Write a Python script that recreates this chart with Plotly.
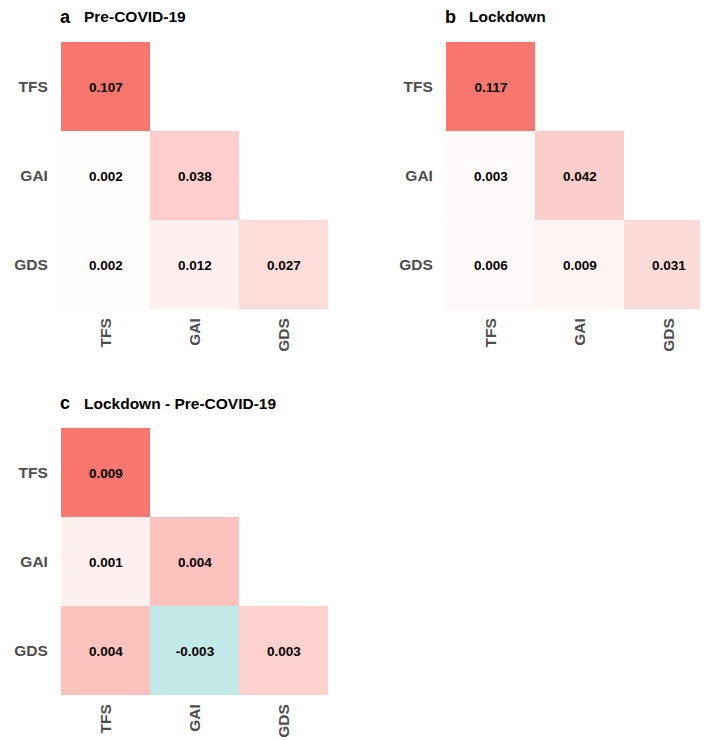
import plotly.graph_objects as go

labels = ["TFS", "GAI", "GDS"]
pre_covid = [[0.107, None, None],
             [0.002, 0.038, None],
             [0.002, 0.012, 0.027]]
lockdown = [[0.117, None, None],
            [0.003, 0.042, None],
            [0.006, 0.009, 0.031]]
difference = [[0.009, None, None],
              [0.001, 0.004, None],
              [0.004, -0.003, 0.003]]
panel_letters = ["a", "b", "c"]
panel_titles = ["Pre-COVID-19", "Lockdown", "Lockdown - Pre-COVID-19"]

W, H = 708, 740
FONT = "Liberation Sans, Arial, sans-serif"
colorscale = [[0.0, "rgb(72,186,186)"], [0.5, "rgb(255,255,255)"], [1.0, "#F8766D"]]

# panel boxes in pixels: (left, top, size)
boxes = [(53, 34, 267), (438, 34, 267), (53, 420, 267)]

fig = go.Figure()
datasets = [pre_covid, lockdown, difference]
for i, (z, (left, top, size)) in enumerate(zip(datasets, boxes)):
    n = i + 1
    xa = "x" if n == 1 else f"x{n}"
    ya = "y" if n == 1 else f"y{n}"
    zmax = max(abs(v) for row in z for v in row if v is not None)
    text = [["" if v is None else f"{v:.3f}" for v in row] for row in z]
    fig.add_trace(go.Heatmap(
        z=z, x=labels, y=labels, text=text, texttemplate="%{text}",
        textfont=dict(family=FONT, size=13.5, color="black", weight="bold"),
        colorscale=colorscale, zmin=-zmax, zmax=zmax, showscale=False,
        hoverinfo="skip", xaxis=xa, yaxis=ya,
    ))
    xdom = [left / W, (left + size) / W]
    ydom = [1 - (top + size) / H, 1 - top / H]
    axkw = dict(showgrid=False, zeroline=False, showline=False, automargin=False,
                ticks="outside", tickcolor="rgba(0,0,0,0)",
                tickfont=dict(family=FONT, size=15.5, color="#4D4D4D", weight="bold"))
    xname = "xaxis" if n == 1 else f"xaxis{n}"
    yname = "yaxis" if n == 1 else f"yaxis{n}"
    fig.update_layout(**{
        xname: dict(domain=xdom, anchor=ya, tickangle=-90, ticklen=2, **axkw),
        yname: dict(domain=ydom, anchor=xa, autorange="reversed", ticklen=9, **axkw),
    })
    ty = 1 - (top - 25) / H
    fig.add_annotation(x=(left - 3) / W, y=ty, xref="paper", yref="paper",
                       xanchor="left", yanchor="middle", showarrow=False,
                       text=f"<b>{panel_letters[i]}</b>",
                       font=dict(family=FONT, size=18, color="black"))
    fig.add_annotation(x=(left + 21) / W, y=ty, xref="paper", yref="paper",
                       xanchor="left", yanchor="middle", showarrow=False,
                       text=f"<b>{panel_titles[i]}</b>",
                       font=dict(family=FONT, size=15.5, color="black"))

fig.update_layout(width=W, height=H, margin=dict(l=0, r=0, t=0, b=0),
                  paper_bgcolor="white", plot_bgcolor="white", showlegend=False)
fig.write_html("out.html")
